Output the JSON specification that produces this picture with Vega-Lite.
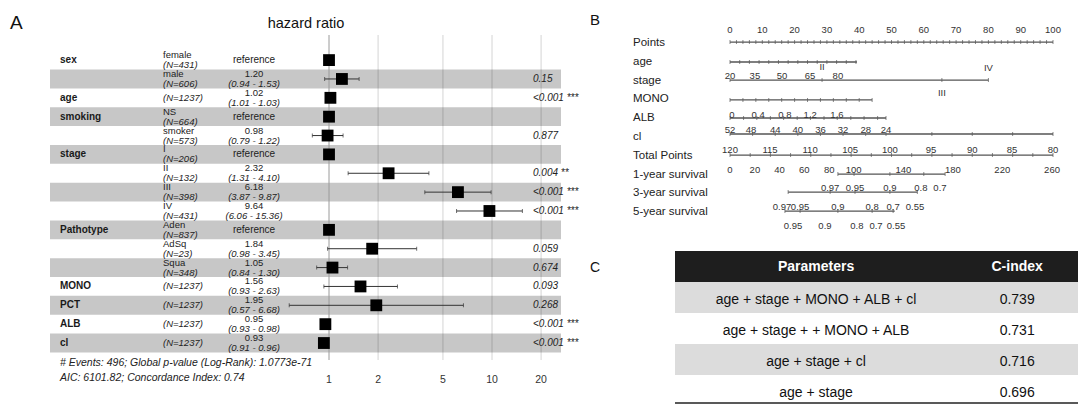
{
"$schema":"https://vega.github.io/schema/vega-lite/v6.json",
"background":"white",
"padding":{"left":10,"top":13,"right":0,"bottom":0},
"config":{"view":{"stroke":null},"font":"Liberation Sans"},
"datasets":{
"grid":[{"v":1,"lab":"1"},{"v":2,"lab":"2"},{"v":5,"lab":"5"},{"v":10,"lab":"10"},{"v":20,"lab":"20"}],
"forest":[
{"row":1,"var":"sex","level":"female","n":"(N=431)","est":1,"lo":null,"hi":null,"hr":"reference","ci":"","p":""},
{"row":2,"var":"","level":"male","n":"(N=606)","est":1.20,"lo":0.94,"hi":1.53,"hr":"1.20","ci":"(0.94 - 1.53)","p":"0.15"},
{"row":3,"var":"age","level":"","n":"(N=1237)","est":1.02,"lo":1.01,"hi":1.03,"hr":"1.02","ci":"(1.01 - 1.03)","p":"<0.001 ***"},
{"row":4,"var":"smoking","level":"NS","n":"(N=664)","est":1,"lo":null,"hi":null,"hr":"reference","ci":"","p":""},
{"row":5,"var":"","level":"smoker","n":"(N=573)","est":0.98,"lo":0.79,"hi":1.22,"hr":"0.98","ci":"(0.79 - 1.22)","p":"0.877"},
{"row":6,"var":"stage","level":"I","n":"(N=206)","est":1,"lo":null,"hi":null,"hr":"reference","ci":"","p":""},
{"row":7,"var":"","level":"II","n":"(N=132)","est":2.32,"lo":1.31,"hi":4.10,"hr":"2.32","ci":"(1.31 - 4.10)","p":"0.004 **"},
{"row":8,"var":"","level":"III","n":"(N=398)","est":6.18,"lo":3.87,"hi":9.87,"hr":"6.18","ci":"(3.87 - 9.87)","p":"<0.001 ***"},
{"row":9,"var":"","level":"IV","n":"(N=431)","est":9.64,"lo":6.06,"hi":15.36,"hr":"9.64","ci":"(6.06 - 15.36)","p":"<0.001 ***"},
{"row":10,"var":"Pathotype","level":"Aden","n":"(N=837)","est":1,"lo":null,"hi":null,"hr":"reference","ci":"","p":""},
{"row":11,"var":"","level":"AdSq","n":"(N=23)","est":1.84,"lo":0.98,"hi":3.45,"hr":"1.84","ci":"(0.98 - 3.45)","p":"0.059"},
{"row":12,"var":"","level":"Squa","n":"(N=348)","est":1.05,"lo":0.84,"hi":1.30,"hr":"1.05","ci":"(0.84 - 1.30)","p":"0.674"},
{"row":13,"var":"MONO","level":"","n":"(N=1237)","est":1.56,"lo":0.93,"hi":2.63,"hr":"1.56","ci":"(0.93 - 2.63)","p":"0.093"},
{"row":14,"var":"PCT","level":"","n":"(N=1237)","est":1.95,"lo":0.57,"hi":6.68,"hr":"1.95","ci":"(0.57 - 6.68)","p":"0.268"},
{"row":15,"var":"ALB","level":"","n":"(N=1237)","est":0.95,"lo":0.93,"hi":0.98,"hr":"0.95","ci":"(0.93 - 0.98)","p":"<0.001 ***"},
{"row":16,"var":"cl","level":"","n":"(N=1237)","est":0.93,"lo":0.91,"hi":0.96,"hr":"0.93","ci":"(0.91 - 0.96)","p":"<0.001 ***"}
],
"notes":[{"row":17.07,"t":"# Events: 496; Global p-value (Log-Rank): 1.0773e-71"},{"row":17.86,"t":"AIC: 6101.82; Concordance Index: 0.74"}],
"nomo_names":[{"row":1,"name":"Points"},{"row":2,"name":"age"},{"row":3,"name":"stage"},{"row":4,"name":"MONO"},{"row":5,"name":"ALB"},{"row":6,"name":"cl"},{"row":7,"name":"Total Points"},{"row":8,"name":"1-year survival"},{"row":9,"name":"3-year survival"},{"row":10,"name":"5-year survival"}],
"nomo_lines":[{"row":0.95,"start":0,"end":100},{"row":2.01,"start":0,"end":39.3},{"row":2.97,"start":0,"end":80},{"row":4.03,"start":0,"end":44},{"row":4.99,"start":0,"end":48.3},{"row":5.84,"start":0,"end":100},{"row":6.96,"start":0,"end":100},{"row":7.97,"start":33.4,"end":66.6},{"row":8.93,"start":18,"end":58},{"row":9.94,"start":17,"end":51}],
"nomo_ticks":[
{"row":0.95,"pts":0},{"row":0.95,"pts":2},{"row":0.95,"pts":4},{"row":0.95,"pts":6},{"row":0.95,"pts":8},{"row":0.95,"pts":10},{"row":0.95,"pts":12},{"row":0.95,"pts":14},{"row":0.95,"pts":16},{"row":0.95,"pts":18},{"row":0.95,"pts":20},{"row":0.95,"pts":22},{"row":0.95,"pts":24},{"row":0.95,"pts":26},{"row":0.95,"pts":28},{"row":0.95,"pts":30},{"row":0.95,"pts":32},{"row":0.95,"pts":34},{"row":0.95,"pts":36},{"row":0.95,"pts":38},{"row":0.95,"pts":40},{"row":0.95,"pts":42},{"row":0.95,"pts":44},{"row":0.95,"pts":46},{"row":0.95,"pts":48},{"row":0.95,"pts":50},{"row":0.95,"pts":52},{"row":0.95,"pts":54},{"row":0.95,"pts":56},{"row":0.95,"pts":58},{"row":0.95,"pts":60},{"row":0.95,"pts":62},{"row":0.95,"pts":64},{"row":0.95,"pts":66},{"row":0.95,"pts":68},{"row":0.95,"pts":70},{"row":0.95,"pts":72},{"row":0.95,"pts":74},{"row":0.95,"pts":76},{"row":0.95,"pts":78},{"row":0.95,"pts":80},{"row":0.95,"pts":82},{"row":0.95,"pts":84},{"row":0.95,"pts":86},{"row":0.95,"pts":88},{"row":0.95,"pts":90},{"row":0.95,"pts":92},{"row":0.95,"pts":94},{"row":0.95,"pts":96},{"row":0.95,"pts":98},{"row":0.95,"pts":100},
{"row":2.01,"pts":0},{"row":2.01,"pts":3},{"row":2.01,"pts":6},{"row":2.01,"pts":9},{"row":2.01,"pts":12},{"row":2.01,"pts":15},{"row":2.01,"pts":18},{"row":2.01,"pts":21},{"row":2.01,"pts":24},{"row":2.01,"pts":27},{"row":2.01,"pts":30},{"row":2.01,"pts":33},{"row":2.01,"pts":36},{"row":2.01,"pts":39},
{"row":2.97,"pts":0},{"row":2.97,"pts":28.5},{"row":2.97,"pts":65.6},{"row":2.97,"pts":80},
{"row":4.03,"pts":0},{"row":4.03,"pts":4},{"row":4.03,"pts":8},{"row":4.03,"pts":12},{"row":4.03,"pts":16},{"row":4.03,"pts":20},{"row":4.03,"pts":24},{"row":4.03,"pts":28},{"row":4.03,"pts":32},{"row":4.03,"pts":36},{"row":4.03,"pts":40},{"row":4.03,"pts":44},
{"row":4.99,"pts":0},{"row":4.99,"pts":4.2},{"row":4.99,"pts":8.3},{"row":4.99,"pts":12.5},{"row":4.99,"pts":16.6},{"row":4.99,"pts":20.8},{"row":4.99,"pts":24.9},{"row":4.99,"pts":29.1},{"row":4.99,"pts":33.2},{"row":4.99,"pts":37.4},{"row":4.99,"pts":41.5},{"row":4.99,"pts":45.7},{"row":4.99,"pts":48.3},
{"row":5.84,"pts":0},{"row":5.84,"pts":7},{"row":5.84,"pts":14},{"row":5.84,"pts":21},{"row":5.84,"pts":28},{"row":5.84,"pts":35},{"row":5.84,"pts":42},{"row":5.84,"pts":48.3},{"row":5.84,"pts":62.5},{"row":5.84,"pts":75},{"row":5.84,"pts":87.5},{"row":5.84,"pts":100},
{"row":6.96,"pts":0},{"row":6.96,"pts":6.25},{"row":6.96,"pts":12.5},{"row":6.96,"pts":18.75},{"row":6.96,"pts":25},{"row":6.96,"pts":31.25},{"row":6.96,"pts":37.5},{"row":6.96,"pts":43.75},{"row":6.96,"pts":50},{"row":6.96,"pts":56.25},{"row":6.96,"pts":62.5},{"row":6.96,"pts":68.75},{"row":6.96,"pts":75},{"row":6.96,"pts":81.25},{"row":6.96,"pts":87.5},{"row":6.96,"pts":93.75},{"row":6.96,"pts":100},
{"row":7.97,"pts":33.4},{"row":7.97,"pts":38.4},{"row":7.97,"pts":49.5},{"row":7.97,"pts":60},{"row":7.97,"pts":66.6},
{"row":8.93,"pts":18},{"row":8.93,"pts":31},{"row":8.93,"pts":38.7},{"row":8.93,"pts":49.5},{"row":8.93,"pts":58},
{"row":9.94,"pts":17},{"row":9.94,"pts":21.7},{"row":9.94,"pts":33.4},{"row":9.94,"pts":44},{"row":9.94,"pts":50.5}
],
"nomo_labels":[
{"row":0.31,"pts":0,"t":"0"},{"row":0.31,"pts":10,"t":"10"},{"row":0.31,"pts":20,"t":"20"},{"row":0.31,"pts":30,"t":"30"},{"row":0.31,"pts":40,"t":"40"},{"row":0.31,"pts":50,"t":"50"},{"row":0.31,"pts":60,"t":"60"},{"row":0.31,"pts":70,"t":"70"},{"row":0.31,"pts":80,"t":"80"},{"row":0.31,"pts":90,"t":"90"},{"row":0.31,"pts":100,"t":"100"},
{"row":2.76,"pts":0,"t":"20"},{"row":2.76,"pts":7.7,"t":"35"},{"row":2.76,"pts":16.1,"t":"50"},{"row":2.76,"pts":24.8,"t":"65"},{"row":2.76,"pts":33.4,"t":"80"},
{"row":2.3,"pts":28.5,"t":"II"},{"row":2.33,"pts":80,"t":"IV"},{"row":3.66,"pts":65.6,"t":"III"},
{"row":4.83,"pts":0.6,"t":"0"},{"row":4.83,"pts":8.7,"t":"0.4"},{"row":4.83,"pts":17,"t":"0.8"},{"row":4.83,"pts":24.8,"t":"1.2"},{"row":4.83,"pts":33.1,"t":"1.6"},
{"row":5.63,"pts":0,"t":"52"},{"row":5.63,"pts":6.5,"t":"48"},{"row":5.63,"pts":14,"t":"44"},{"row":5.63,"pts":21,"t":"40"},{"row":5.63,"pts":28,"t":"36"},{"row":5.63,"pts":35,"t":"32"},{"row":5.63,"pts":42,"t":"28"},{"row":5.63,"pts":48.3,"t":"24"},
{"row":6.69,"pts":0,"t":"120"},{"row":6.69,"pts":12.4,"t":"115"},{"row":6.69,"pts":24.8,"t":"110"},{"row":6.69,"pts":37.2,"t":"105"},{"row":6.69,"pts":49.5,"t":"100"},{"row":6.69,"pts":62.2,"t":"95"},{"row":6.69,"pts":75,"t":"90"},{"row":6.69,"pts":87.3,"t":"85"},{"row":6.69,"pts":100,"t":"80"},
{"row":7.76,"pts":0,"t":"0"},{"row":7.76,"pts":7.7,"t":"20"},{"row":7.76,"pts":15.3,"t":"40"},{"row":7.76,"pts":23,"t":"60"},{"row":7.76,"pts":30.7,"t":"80"},{"row":7.76,"pts":38.3,"t":"100"},{"row":7.76,"pts":53.7,"t":"140"},{"row":7.76,"pts":69,"t":"180"},{"row":7.76,"pts":84.3,"t":"220"},{"row":7.76,"pts":99.7,"t":"260"},
{"row":8.71,"pts":31,"t":"0.97"},{"row":8.71,"pts":38.7,"t":"0.95"},{"row":8.71,"pts":49.5,"t":"0.9"},{"row":8.71,"pts":59.1,"t":"0.8"},{"row":8.71,"pts":65,"t":"0.7"},
{"row":9.72,"pts":16.1,"t":"0.97"},{"row":9.72,"pts":21.7,"t":"0.95"},{"row":9.72,"pts":33.4,"t":"0.9"},{"row":9.72,"pts":44,"t":"0.8"},{"row":9.72,"pts":50.5,"t":"0.7"},{"row":9.72,"pts":57.3,"t":"0.55"},
{"row":10.73,"pts":19.5,"t":"0.95"},{"row":10.73,"pts":29.4,"t":"0.9"},{"row":10.73,"pts":39.3,"t":"0.8"},{"row":10.73,"pts":45.2,"t":"0.7"},{"row":10.73,"pts":51.4,"t":"0.55"}
],
"table":[
{"r":"h","params":"Parameters","cidx":"C-index"},
{"r":"1","params":"age + stage + MONO + ALB + cl","cidx":"0.739"},
{"r":"2","params":"age + stage + + MONO + ALB","cidx":"0.731"},
{"r":"3","params":"age + stage + cl","cidx":"0.716"},
{"r":"4","params":"age + stage","cidx":"0.696"}
]
},
"spacing":114,
"bounds":"flush",
"hconcat":[
{"width":511,"height":335,
"layer":[
{"data":{"name":"grid"},"transform":[{"filter":"datum.v != 1"}],
 "mark":{"type":"rule","color":"#d4d4d4","strokeWidth":1},
 "encoding":{
  "x":{"field":"v","type":"quantitative","title":null,"scale":{"type":"log","domain":[0.01942,26.5],"nice":false},"axis":null},
  "y":{"datum":-0.33,"type":"quantitative","scale":{"domain":[-0.861,16.9],"reverse":true,"nice":false,"zero":false},"axis":null},
  "y2":{"datum":16.9}}},
{"data":{"name":"forest"},"transform":[{"filter":"datum.row % 2 == 0"}],
 "mark":{"type":"rule","color":"#000000","strokeOpacity":0.22,"strokeWidth":18.86,"strokeCap":"butt"},
 "encoding":{"y":{"field":"row","type":"quantitative","axis":null}}},
{"data":{"name":"grid"},"transform":[{"filter":"datum.v == 1"}],
 "mark":{"type":"rule","color":"#9a9a9a","strokeWidth":1},
 "encoding":{"x":{"field":"v","type":"quantitative","title":null,"axis":null},"y":{"datum":-0.33,"type":"quantitative","axis":null},"y2":{"datum":16.9}}},
{"data":{"name":"grid"},
 "mark":{"type":"text","align":"center","fontSize":10.5,"color":"#333333"},
 "encoding":{"x":{"field":"v","type":"quantitative","title":null,"axis":null},"y":{"datum":17.96,"type":"quantitative","axis":null},"text":{"field":"lab"}}},
{"data":{"name":"forest"},"transform":[{"filter":"isValid(datum.lo)"}],
 "mark":{"type":"rule","color":"#333333","strokeWidth":1},
 "encoding":{"x":{"field":"lo","type":"quantitative","title":null,"axis":null},"x2":{"field":"hi"},"y":{"field":"row","type":"quantitative","axis":null}}},
{"data":{"name":"forest"},"transform":[{"filter":"isValid(datum.lo)"}],
 "mark":{"type":"tick","orient":"vertical","size":4,"thickness":1,"color":"#333333"},
 "encoding":{"x":{"field":"lo","type":"quantitative","title":null,"axis":null},"y":{"field":"row","type":"quantitative","axis":null}}},
{"data":{"name":"forest"},"transform":[{"filter":"isValid(datum.hi)"}],
 "mark":{"type":"tick","orient":"vertical","size":4,"thickness":1,"color":"#333333"},
 "encoding":{"x":{"field":"hi","type":"quantitative","title":null,"axis":null},"y":{"field":"row","type":"quantitative","axis":null}}},
{"data":{"name":"forest"},
 "mark":{"type":"point","shape":"square","filled":true,"size":140,"color":"#000000","opacity":1},
 "encoding":{"x":{"field":"est","type":"quantitative","title":null,"axis":null},"y":{"field":"row","type":"quantitative","axis":null}}},
{"data":{"name":"forest"},
 "mark":{"type":"text","align":"left","fontSize":10,"fontWeight":"bold","color":"#1a1a1a"},
 "encoding":{"x":{"datum":0.02237,"type":"quantitative","axis":null},"y":{"field":"row","type":"quantitative","axis":null},"text":{"field":"var"}}},
{"data":{"name":"forest"},"transform":[{"filter":"datum.level != ''"}],
 "mark":{"type":"text","align":"left","fontSize":9.5,"dy":-5,"color":"#222222"},
 "encoding":{"x":{"datum":0.09585,"type":"quantitative","axis":null},"y":{"field":"row","type":"quantitative","axis":null},"text":{"field":"level"}}},
{"data":{"name":"forest"},"transform":[{"filter":"datum.level != ''"}],
 "mark":{"type":"text","align":"left","fontSize":9.5,"dy":5,"fontStyle":"italic","color":"#222222"},
 "encoding":{"x":{"datum":0.09585,"type":"quantitative","axis":null},"y":{"field":"row","type":"quantitative","axis":null},"text":{"field":"n"}}},
{"data":{"name":"forest"},"transform":[{"filter":"datum.level == ''"}],
 "mark":{"type":"text","align":"left","fontSize":9.5,"fontStyle":"italic","color":"#222222"},
 "encoding":{"x":{"datum":0.09585,"type":"quantitative","axis":null},"y":{"field":"row","type":"quantitative","axis":null},"text":{"field":"n"}}},
{"data":{"name":"forest"},"transform":[{"filter":"datum.hr != 'reference'"}],
 "mark":{"type":"text","align":"center","fontSize":9.5,"dy":-5,"color":"#222222"},
 "encoding":{"x":{"datum":0.3467,"type":"quantitative","axis":null},"y":{"field":"row","type":"quantitative","axis":null},"text":{"field":"hr"}}},
{"data":{"name":"forest"},"transform":[{"filter":"datum.hr != 'reference'"}],
 "mark":{"type":"text","align":"center","fontSize":9.5,"dy":5,"fontStyle":"italic","color":"#222222"},
 "encoding":{"x":{"datum":0.3467,"type":"quantitative","axis":null},"y":{"field":"row","type":"quantitative","axis":null},"text":{"field":"ci"}}},
{"data":{"name":"forest"},"transform":[{"filter":"datum.hr == 'reference'"}],
 "mark":{"type":"text","align":"center","fontSize":10,"color":"#222222"},
 "encoding":{"x":{"datum":0.3467,"type":"quantitative","axis":null},"y":{"field":"row","type":"quantitative","axis":null},"text":{"field":"hr"}}},
{"data":{"name":"forest"},
 "mark":{"type":"text","align":"left","fontSize":10,"fontStyle":"italic","color":"#222222"},
 "encoding":{"x":{"datum":17.85,"type":"quantitative","axis":null},"y":{"field":"row","type":"quantitative","axis":null},"text":{"field":"p"}}},
{"data":{"name":"notes"},
 "mark":{"type":"text","align":"left","fontSize":10.5,"fontStyle":"italic","color":"#222222"},
 "encoding":{"x":{"datum":0.02237,"type":"quantitative","axis":null},"y":{"field":"row","type":"quantitative","axis":null},"text":{"field":"t"}}},
{"data":{"values":[{"t":"hazard ratio"}]},
 "mark":{"type":"text","align":"center","baseline":"alphabetic","fontSize":14.5,"color":"#111111"},
 "encoding":{"x":{"datum":0.7226,"type":"quantitative","axis":null},"y":{"datum":-0.702,"type":"quantitative","axis":null},"text":{"field":"t"}}},
{"data":{"values":[{"t":"A"}]},
 "mark":{"type":"text","align":"left","baseline":"alphabetic","fontSize":19,"color":"#111111"},
 "encoding":{"x":{"datum":0.01104,"type":"quantitative","axis":null},"y":{"datum":-0.649,"type":"quantitative","axis":null},"text":{"field":"t"}}}
]},
{"vconcat":[
{"width":403,"height":205,
"layer":[
{"data":{"name":"nomo_lines"},
 "mark":{"type":"rule","color":"#555555","strokeWidth":1.3},
 "encoding":{"x":{"field":"start","type":"quantitative","title":null,"scale":{"domain":[-17.03,107.74],"nice":false,"zero":false},"axis":null},"x2":{"field":"end"},
  "y":{"field":"row","type":"quantitative","scale":{"domain":[0.0426,10.947],"reverse":true,"nice":false,"zero":false},"axis":null}}},
{"data":{"name":"nomo_ticks"},
 "mark":{"type":"tick","orient":"vertical","size":4,"thickness":1,"color":"#555555"},
 "encoding":{"x":{"field":"pts","type":"quantitative","title":null,"axis":null},"y":{"field":"row","type":"quantitative","axis":null}}},
{"data":{"name":"nomo_names"},
 "mark":{"type":"text","align":"left","fontSize":11.5,"color":"#222222"},
 "encoding":{"x":{"datum":-30.03,"type":"quantitative","axis":null},"y":{"field":"row","type":"quantitative","axis":null},"text":{"field":"name"}}},
{"data":{"name":"nomo_labels"},
 "mark":{"type":"text","align":"center","fontSize":9.5,"color":"#333333"},
 "encoding":{"x":{"field":"pts","type":"quantitative","title":null,"axis":null},"y":{"field":"row","type":"quantitative","axis":null},"text":{"field":"t"}}},
{"data":{"values":[{"t":"B"}]},
 "mark":{"type":"text","align":"left","baseline":"alphabetic","fontSize":15,"color":"#111111"},
 "encoding":{"x":{"datum":-43.34,"type":"quantitative","axis":null},"y":{"datum":0.0426,"type":"quantitative","axis":null},"text":{"field":"t"}}}
]},
{"width":403,"height":155,
"layer":[
{"data":{"name":"table"},"transform":[{"filter":"datum.r == 'h'"}],
 "mark":{"type":"rect","color":"#1e1e1e"},
 "encoding":{"y":{"field":"r","type":"nominal","scale":{"type":"band","domain":["h","1","2","3","4"],"paddingInner":0,"paddingOuter":0},"axis":null}}},
{"data":{"name":"table"},"transform":[{"filter":"datum.r == '1' || datum.r == '3'"}],
 "mark":{"type":"rect","color":"#dcdcdc"},
 "encoding":{"y":{"field":"r","type":"nominal","axis":null}}},
{"data":{"values":[{"r":"4"}]},
 "mark":{"type":"rule","color":"#222222","strokeWidth":1.5},
 "encoding":{"y":{"field":"r","type":"nominal","bandPosition":0.9,"axis":null}}},
{"data":{"name":"table"},"transform":[{"filter":"datum.r != 'h'"}],
 "mark":{"type":"text","align":"center","fontSize":14,"dy":2,"color":"#111111"},
 "encoding":{"x":{"datum":0.35,"type":"quantitative","scale":{"domain":[0,1],"nice":false,"zero":false},"axis":null},"y":{"field":"r","type":"nominal","axis":null},"text":{"field":"params"}}},
{"data":{"name":"table"},"transform":[{"filter":"datum.r != 'h'"}],
 "mark":{"type":"text","align":"center","fontSize":14,"dy":2,"color":"#111111"},
 "encoding":{"x":{"datum":0.849,"type":"quantitative","axis":null},"y":{"field":"r","type":"nominal","axis":null},"text":{"field":"cidx"}}},
{"data":{"name":"table"},"transform":[{"filter":"datum.r == 'h'"}],
 "mark":{"type":"text","align":"center","fontSize":14,"fontWeight":"bold","color":"#ffffff"},
 "encoding":{"x":{"datum":0.35,"type":"quantitative","axis":null},"y":{"field":"r","type":"nominal","axis":null},"text":{"field":"params"}}},
{"data":{"name":"table"},"transform":[{"filter":"datum.r == 'h'"}],
 "mark":{"type":"text","align":"center","fontSize":14,"fontWeight":"bold","color":"#ffffff"},
 "encoding":{"x":{"datum":0.849,"type":"quantitative","axis":null},"y":{"field":"r","type":"nominal","axis":null},"text":{"field":"cidx"}}},
{"data":{"values":[{"t":"C"}]},
 "mark":{"type":"text","align":"left","fontSize":14,"dy":1,"color":"#111111"},
 "encoding":{"x":{"datum":-0.211,"type":"quantitative","axis":null},"y":{"datum":"h","type":"nominal","axis":null},"text":{"field":"t"}}}
]}
],"spacing":21,"bounds":"flush"}
]
}
